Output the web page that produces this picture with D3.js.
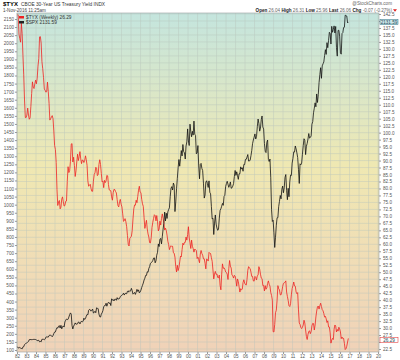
<!DOCTYPE html>
<meta charset="utf-8">
<script src="https://d3js.org/d3.v7.min.js"></script>
<style>
  body { margin: 0; background: #fff; }
  text { font-family: "Liberation Sans", "DejaVu Sans", sans-serif; }
</style>
<div id="chart"></div>
<script>

// year labels along the bottom
var yearLabels = ["82","83","84","85","86","87","88","89","90","91","92","93","94","95","96","97","98","99",
  "00","01","02","03","04","05","06","07","08","09","10","11","12","13","14","15","16","17","18","19","20"];

// S&P 500, monthly, Jan 1982 .. Nov 2016 (left axis)
var spx = [
  120.4,113.1,112.0,116.4,111.9,109.6,107.1,119.5,120.4,133.7,138.5,140.6,
  145.3,148.1,153.0,164.4,162.4,168.1,162.6,164.4,166.1,163.6,166.4,164.9,
  163.4,157.1,159.2,160.1,150.6,153.2,150.7,166.7,166.1,166.1,163.6,167.2,
  179.6,181.2,180.7,179.8,189.6,191.9,190.9,188.6,182.1,189.8,202.2,211.3,
  211.8,226.9,238.9,235.5,247.4,250.8,236.1,252.9,231.3,244.0,249.2,242.2,
  274.1,284.2,291.7,288.4,290.1,304.0,318.7,329.8,321.8,251.8,230.3,247.1,
  257.1,267.8,258.9,261.3,262.2,273.5,272.0,261.5,271.9,279.0,273.7,277.7,
  297.5,288.9,294.9,309.6,320.5,318.0,346.1,351.5,349.2,340.4,346.0,353.4,
  329.1,331.9,339.9,330.8,361.2,358.0,356.2,322.6,306.1,304.0,322.2,330.2,
  343.9,367.1,375.2,375.3,389.8,371.2,387.8,395.4,387.9,392.5,375.2,417.1,
  408.8,412.7,403.7,415.0,415.4,408.1,424.2,414.0,417.8,418.7,431.4,435.7,
  438.8,443.4,451.7,440.2,450.2,450.5,448.1,463.6,458.9,467.8,461.8,466.5,
  481.6,467.1,445.8,450.9,456.5,444.3,458.3,475.5,462.7,472.4,453.7,459.3,
  470.4,487.4,500.7,514.7,533.4,544.8,562.1,561.9,584.4,581.5,605.4,615.9,
  636.0,640.4,645.5,654.2,669.1,670.6,640.0,652.0,687.3,705.3,757.0,740.7,
  786.2,791.0,757.1,801.3,848.3,885.1,954.3,899.5,947.3,914.6,955.4,970.4,
  980.3,1049.3,1101.8,1111.8,1090.8,1133.8,1120.7,957.3,1017.0,1098.7,1163.6,1229.2,
  1279.6,1238.3,1286.4,1335.2,1301.8,1372.7,1328.7,1320.4,1282.7,1362.9,1388.9,1469.3,
  1394.5,1366.4,1498.6,1452.4,1420.6,1454.6,1430.8,1517.7,1436.5,1429.4,1315.0,1320.3,
  1366.0,1239.9,1160.3,1249.5,1255.8,1224.4,1211.2,1133.6,1040.9,1059.8,1139.5,1148.1,
  1130.2,1106.7,1147.4,1076.9,1067.1,989.8,911.6,916.1,815.3,885.8,936.3,879.8,
  855.7,841.2,848.2,916.9,963.6,974.5,990.3,1008.0,996.0,1050.7,1058.2,1111.9,
  1131.1,1144.9,1126.2,1107.3,1120.7,1140.8,1101.7,1104.2,1114.6,1130.2,1173.8,1211.9,
  1181.3,1203.6,1180.6,1156.9,1191.5,1191.3,1234.2,1220.3,1228.8,1207.0,1249.5,1248.3,
  1280.1,1280.7,1294.8,1310.6,1270.1,1270.2,1276.7,1303.8,1335.9,1377.9,1400.6,1418.3,
  1438.2,1406.8,1420.9,1482.4,1530.6,1503.4,1455.3,1474.0,1526.8,1549.4,1481.1,1468.4,
  1378.6,1330.6,1322.7,1385.6,1400.4,1280.0,1267.4,1282.8,1166.4,968.8,896.2,903.3,
  825.9,735.1,797.9,872.8,919.1,919.3,987.5,1020.6,1057.1,1036.2,1095.6,1115.1,
  1073.9,1104.5,1169.4,1186.7,1089.4,1030.7,1101.6,1049.3,1141.2,1183.3,1180.6,1257.6,
  1286.1,1327.2,1325.8,1363.6,1345.2,1320.6,1292.3,1218.9,1131.4,1253.3,1247.0,1257.6,
  1312.4,1365.7,1408.5,1397.9,1310.3,1362.2,1379.3,1406.6,1440.7,1412.2,1416.2,1426.2,
  1498.1,1514.7,1569.2,1597.6,1630.7,1606.3,1685.7,1633.0,1681.6,1756.5,1805.8,1848.4,
  1782.6,1859.5,1872.3,1884.0,1923.6,1960.2,1930.7,2003.4,1972.3,2018.1,2067.6,2058.9,
  1995.0,2104.5,2067.9,2085.5,2107.4,2063.1,2103.8,1972.2,1920.0,2079.4,2080.4,2043.9,
  1940.2,1932.2,2059.7,2065.3,2097.0,2098.9,2173.6,2171.0,2168.3,2126.2,2131.6
];

// CBOE 30-year yield x10, monthly, Jan 1982 .. Nov 2016 (right axis)
var tyx = [
  142.2,142.2,135.3,133.7,132.4,139.2,135.5,127.7,120.7,111.7,105.4,105.4,
  106.3,108.8,106.3,104.8,105.3,109.3,114.0,118.2,116.3,115.8,117.5,118.8,
  117.5,119.5,123.8,126.5,134.3,134.4,132.1,125.4,122.9,119.8,115.6,115.2,
  114.5,114.7,118.1,114.7,110.5,104.5,105.0,105.6,106.1,105.0,100.6,95.4,
  94.0,89.3,79.6,73.9,75.2,75.7,72.7,73.3,76.2,77.0,75.2,73.7,
  73.9,75.4,75.5,82.5,87.8,85.7,86.4,89.7,95.9,96.1,89.5,91.2,
  88.3,84.3,86.3,89.5,92.3,90.0,91.4,93.2,90.6,88.9,90.2,90.1,
  89.3,90.1,91.7,90.3,88.3,82.7,80.8,81.2,81.5,80.0,79.0,79.0,
  82.6,85.0,85.6,87.6,87.3,84.6,85.0,88.6,90.3,88.6,85.4,82.4,
  82.7,80.3,82.9,82.1,82.7,84.7,84.5,81.4,79.5,79.3,79.2,77.0,
  75.8,78.5,79.7,79.6,78.9,78.4,76.0,73.9,73.4,75.3,76.1,74.4,
  73.4,70.9,68.2,68.5,69.2,68.1,66.3,63.2,60.0,59.4,62.1,62.5,
  62.9,64.9,69.1,72.7,74.1,74.0,75.8,74.9,77.1,79.4,80.8,78.7,
  78.5,76.1,74.5,73.6,69.5,65.7,67.2,68.6,65.5,63.7,62.6,60.6,
  60.5,62.4,66.0,67.9,69.3,70.6,70.3,68.4,70.3,68.1,64.8,65.5,
  68.3,66.9,69.3,70.9,69.4,67.7,65.1,65.8,65.0,63.3,61.1,59.9,
  58.1,58.9,59.5,59.2,59.3,57.0,56.8,55.4,52.0,50.1,52.5,50.6,
  51.6,53.7,55.8,55.5,58.1,60.4,59.8,60.7,60.7,62.6,61.5,63.5,
  66.3,62.3,60.5,58.5,61.5,59.3,58.5,57.2,58.3,58.0,57.8,54.9,
  55.4,54.5,53.4,56.5,57.8,56.7,56.1,54.8,54.8,53.2,51.2,54.8,
  54.5,54.0,57.1,56.8,56.7,55.2,53.9,50.8,47.6,49.3,50.3,49.2,
  49.4,48.1,48.0,49.0,45.3,43.7,49.3,53.0,51.4,51.6,51.1,50.1,
  49.9,49.3,47.4,51.4,54.2,52.2,51.5,49.0,48.7,47.9,48.9,48.6,
  47.2,45.0,47.6,46.7,44.8,42.9,44.1,43.7,43.9,46.3,47.3,46.1,
  45.6,45.4,47.4,50.7,52.0,51.5,51.3,50.0,48.5,48.5,46.9,46.8,
  48.5,48.2,47.2,48.7,49.0,52.0,51.1,49.3,47.9,47.7,45.2,45.3,
  43.3,45.2,43.9,44.4,46.0,46.9,45.7,45.0,42.7,41.7,40.0,28.7,
  28.6,31.3,35.5,36.4,40.0,45.2,44.1,43.7,41.9,41.9,43.1,44.9,
  46.0,46.2,46.4,46.9,42.9,41.3,39.9,38.0,37.7,38.7,41.9,44.2,
  45.2,46.5,45.1,45.0,42.9,42.3,42.7,36.5,31.8,31.3,30.2,29.8,
  30.3,31.1,32.8,31.8,29.3,27.0,25.9,27.7,28.8,29.0,28.0,28.8,
  30.8,31.7,31.6,29.3,31.1,34.0,36.1,37.6,37.9,36.8,38.0,38.9,
  37.7,36.6,36.2,35.2,33.9,34.2,33.3,32.0,32.6,30.4,30.4,28.3,
  24.6,25.7,26.3,25.9,29.6,31.1,30.7,28.6,29.5,28.9,30.3,29.7,
  28.6,26.2,26.8,26.2,26.3,24.5,22.3,22.6,23.5,25.0,26.3
];

var leftTicks = d3.range(100, 2151, 50);
var rightTicks = d3.range(225, 1426, 25).map(function(d) { return d / 10; });

var W = 400, H = 360;
var L = 17, R = 379, T = 13, B = 352;

var svg = d3.select("#chart").append("svg")
  .attr("width", W).attr("height", H);

// background gradient of the plot area
var defs = svg.append("defs");
var grad = defs.append("linearGradient").attr("id", "bg")
  .attr("x1", 0).attr("y1", 0).attr("x2", 0).attr("y2", 1);
grad.append("stop").attr("offset", "0%").attr("stop-color", "#c4e5de");
grad.append("stop").attr("offset", "45%").attr("stop-color", "#efe8b2");
grad.append("stop").attr("offset", "75%").attr("stop-color", "#f0dcb6");
grad.append("stop").attr("offset", "100%").attr("stop-color", "#f0d2b8");

svg.append("rect")
  .attr("x", L).attr("y", T).attr("width", R - L).attr("height", B - T)
  .attr("fill", "url(#bg)");

// scales
var x = d3.scaleLinear().domain([1982, 2020.1]).range([L, R]);
var yL = d3.scaleLinear().domain([100, 2150]).range([350, 19]);
var yR = d3.scaleLinear().domain([22.5, 142.5]).range([349, 14]);

var t = function(i) { return 1982 + (i + 0.5) / 12; };

// tags for the last values, on the right axis
var spxTagY = 22, tyxTagY = 340;

// grid
var grid = svg.append("g").attr("stroke", "#b8c4bc").attr("stroke-width", 0.5).attr("opacity", 0.8);
yearLabels.forEach(function(lab, i) {
  grid.append("line").attr("x1", x(1982 + i)).attr("x2", x(1982 + i))
    .attr("y1", T).attr("y2", B);
});
rightTicks.forEach(function(v) {
  grid.append("line").attr("x1", L).attr("x2", R)
    .attr("y1", yR(v)).attr("y2", yR(v));
});

// plot frame
svg.append("rect")
  .attr("x", L).attr("y", T).attr("width", R - L).attr("height", B - T)
  .attr("fill", "none").attr("stroke", "#9aa0a0").attr("stroke-width", 0.6);

// left axis (SPX)
var axL = svg.append("g").attr("transform", "translate(" + L + ",0)")
  .call(d3.axisLeft(yL).tickValues(leftTicks).tickSize(2).tickPadding(1).tickFormat(d3.format("d")));
axL.select(".domain").remove();
axL.selectAll("text").style("font-size", "4.6px").attr("fill", "#555");
axL.selectAll("line").attr("stroke", "#999");

// right axis (TYX) - labels hidden under the value tags
var axR = svg.append("g").attr("transform", "translate(" + R + ",0)")
  .call(d3.axisRight(yR).tickValues(rightTicks).tickSize(2).tickPadding(2).tickFormat(d3.format(".1f")));
axR.select(".domain").remove();
axR.selectAll("text").style("font-size", "4.6px").attr("fill", "#555")
  .filter(function(d) { return Math.abs(yR(d) - spxTagY) < 5.5 || Math.abs(yR(d) - tyxTagY) < 4.5; })
  .remove();
axR.selectAll("line").attr("stroke", "#999");

// bottom axis
var axB = svg.append("g").attr("transform", "translate(0," + B + ")")
  .call(d3.axisBottom(x).tickValues(d3.range(1982, 2021)).tickSize(2).tickPadding(1)
    .tickFormat(function(d, i) { return yearLabels[i]; }));
axB.select(".domain").remove();
axB.selectAll("text").style("font-size", "4.6px").attr("fill", "#555");
axB.selectAll("line").attr("stroke", "#999");

// lines
var lineL = d3.line().x(function(d, i) { return x(t(i)); }).y(function(d) { return yL(d); });
var lineR = d3.line().x(function(d, i) { return x(t(i)); }).y(function(d) { return yR(d); });

svg.append("path").datum(tyx).attr("d", lineR)
  .attr("fill", "none").attr("stroke", "#ee2222").attr("stroke-width", 0.8);
svg.append("path").datum(spx).attr("d", lineL)
  .attr("fill", "none").attr("stroke", "#111").attr("stroke-width", 0.8);

// legend
var leg = svg.append("g").attr("transform", "translate(19,15)");
leg.append("rect").attr("x", 0).attr("y", 1).attr("width", 5).attr("height", 2.5).attr("fill", "#ee2222");
leg.append("text").attr("x", 7).attr("y", 4).style("font-size", "4.8px").attr("fill", "#333").text("$TYX (Weekly) 26.29");
leg.append("rect").attr("x", 0).attr("y", 6).attr("width", 5).attr("height", 2.5).attr("fill", "#222");
leg.append("text").attr("x", 7).attr("y", 9).style("font-size", "4.8px").attr("fill", "#333").text("$SPX 2131.59");

// last value tags on right axis
function tag(yv, label, stroke, fill, color) {
  var g = svg.append("g").attr("transform", "translate(" + (R + 1) + "," + yv + ")");
  g.append("rect").attr("x", 0).attr("y", -2.6).attr("width", 18).attr("height", 5.2)
    .attr("fill", fill).attr("stroke", stroke).attr("stroke-width", 0.5);
  g.append("text").attr("x", 9).attr("y", 1.6).attr("text-anchor", "middle")
    .style("font-size", "4.6px").attr("fill", color).text(label);
}
tag(spxTagY, "2131.59", "#2a6f80", "#cde6ea", "#1d4c58");
tag(tyxTagY, "26.29", "#e02020", "#ffffff", "#1d4c58");

// header
var h = svg.append("g");
h.append("text").attr("x", 3).attr("y", 6).style("font-size", "6px").style("font-weight", "bold").text("$TYX");
h.append("text").attr("x", 21).attr("y", 6).style("font-size", "4.8px").attr("fill", "#333").text("CBOE 30-Year US Treasury Yield INDX");
h.append("text").attr("x", 3).attr("y", 11.5).style("font-size", "4.6px").attr("fill", "#444").text("1-Nov-2016 11:25am");
h.append("text").attr("x", 392).attr("y", 5).attr("text-anchor", "end").style("font-size", "4.6px").attr("fill", "#666").text("@StockCharts.com");

var stats = [["Open", "26.04"], ["High", "26.31"], ["Low", "25.96"], ["Last", "26.06"], ["Chg", "-0.07 (-0.27%)"]];
var st = h.append("text").attr("x", 392).attr("y", 11.5).attr("text-anchor", "end").style("font-size", "4.6px");
stats.forEach(function(s) {
  st.append("tspan").style("font-weight", "bold").attr("fill", "#222").text(s[0] + " ");
  st.append("tspan").attr("fill", "#666").text(s[1] + "  ");
});
h.append("path").attr("d", "M393,9.2 L397,9.2 L395,11.8 Z").attr("fill", "#e02020");

</script>
